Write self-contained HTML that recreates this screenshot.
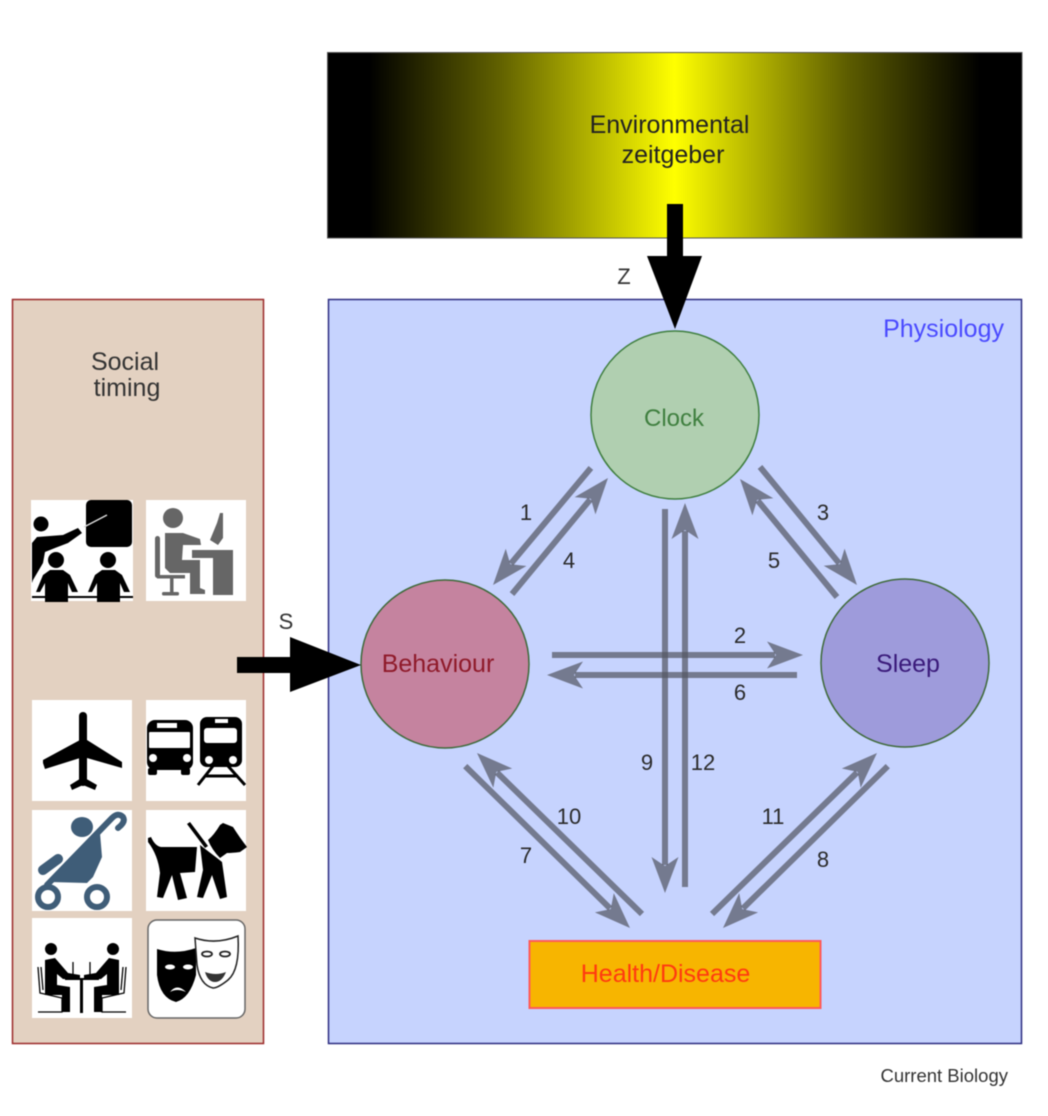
<!DOCTYPE html>
<html><head><meta charset="utf-8"><style>
html,body{margin:0;padding:0;background:#fff;width:1048px;height:1116px;overflow:hidden}
svg{display:block;filter:blur(.5px)}
text{font-family:"Liberation Sans",sans-serif}
.n{font-size:22px;fill:#2a2a2a;text-anchor:middle}
.a line{stroke:#545764;stroke-width:6;stroke-opacity:.72}
.a use{fill:#545764;fill-opacity:.72}
</style></head><body>
<svg xmlns="http://www.w3.org/2000/svg" xmlns:xlink="http://www.w3.org/1999/xlink" width="1048" height="1116" viewBox="0 0 1048 1116">
<defs>
<linearGradient id="g" gradientUnits="userSpaceOnUse" x1="327" y1="0" x2="1022" y2="0">
<stop offset="0.06" stop-color="#000"/><stop offset="0.25" stop-color="#626200"/><stop offset="0.5" stop-color="#ffff00"/><stop offset="0.75" stop-color="#5c5c00"/><stop offset="0.94" stop-color="#000"/>
</linearGradient>
<polygon id="h" points="0,0 -36,-13.5 -27,0 -36,13.5"/>
</defs>
<rect width="1048" height="1116" fill="#fff"/>
<rect x="327.5" y="52.5" width="694.500" height="185.500" fill="url(#g)" stroke="#555" stroke-width="1"/>
<text x="669.500" y="133" font-size="25" fill="#222" text-anchor="middle">Environmental</text>
<text x="673" y="163" font-size="25" fill="#222" text-anchor="middle">zeitgeber</text>

<rect x="12.500" y="299.500" width="251" height="744" fill="#e3d1c1" stroke="#9c2a2a" stroke-width="1.500"/>
<rect x="328.500" y="299.500" width="693" height="744" fill="#c6d3fe" stroke="#2c2c80" stroke-width="1.500"/>
<text x="1004" y="337" font-size="25" fill="#4a4aff" text-anchor="end">Physiology</text>
<text x="125" y="370" font-size="25" fill="#333" text-anchor="middle">Social</text>
<text x="127" y="396" font-size="25" fill="#333" text-anchor="middle">timing</text>

<circle cx="675" cy="415" r="84" fill="#b0cfb0" stroke="#3f7f3f" stroke-width="1.500"/>
<circle cx="445" cy="664" r="84" fill="#c5839f" stroke="#3f6a3a" stroke-width="1.500"/>
<circle cx="905" cy="663" r="84" fill="#9e9bdb" stroke="#3f6a3a" stroke-width="1.500"/>
<text x="674" y="426" font-size="24" fill="#3f7f3f" text-anchor="middle">Clock</text>
<text x="438" y="672" font-size="25" fill="#8f1a2a" text-anchor="middle">Behaviour</text>
<text x="908" y="672" font-size="25" fill="#3a1a7a" text-anchor="middle">Sleep</text>
<rect x="529.500" y="941" width="291" height="67" fill="#f7b500" stroke="#ff5a5a" stroke-width="2"/>
<text x="665.500" y="982" font-size="25" fill="#ff3a10" text-anchor="middle">Health/Disease</text>

<polygon fill="#000" points="667,204 683,204 683,256 702,256 675,329 647,256 667,256"/>
<polygon fill="#000" points="237,657 290,657 290,637 361,665 290,692 290,673 237,673"/>
<text x="624" y="284" font-size="22" fill="#333" text-anchor="middle">Z</text>
<text x="286" y="629" font-size="22" fill="#333" text-anchor="middle">S</text>

<g class="a">
<g transform="translate(493,585) rotate(129.900)"><line x1="-152.600" x2="-28"/><use xlink:href="#h"/></g>
<g transform="translate(608,478) rotate(-50.400)"><line x1="-150.600" x2="-28"/><use xlink:href="#h"/></g>
<g transform="translate(857,585) rotate(50.600)"><line x1="-152.800" x2="-28"/><use xlink:href="#h"/></g>
<g transform="translate(740,479) rotate(230.600)"><line x1="-152.800" x2="-28"/><use xlink:href="#h"/></g>
<g transform="translate(803,655)"><line x1="-251" x2="-28"/><use xlink:href="#h"/></g>
<g transform="translate(547,675) rotate(180)"><line x1="-250" x2="-28"/><use xlink:href="#h"/></g>
<g transform="translate(665,893) rotate(90)"><line x1="-384" x2="-28"/><use xlink:href="#h"/></g>
<g transform="translate(685,503) rotate(-90)"><line x1="-384" x2="-28"/><use xlink:href="#h"/></g>
<g transform="translate(630,928) rotate(44.500)"><line x1="-231" x2="-28"/><use xlink:href="#h"/></g>
<g transform="translate(477,753) rotate(224.300)"><line x1="-230.500" x2="-28"/><use xlink:href="#h"/></g>
<g transform="translate(877,753) rotate(-44.300)"><line x1="-230.500" x2="-28"/><use xlink:href="#h"/></g>
<g transform="translate(723,928) rotate(135.500)"><line x1="-231" x2="-28"/><use xlink:href="#h"/></g>
</g>
<g>
<text class="n" x="526" y="520">1</text><text class="n" x="569" y="568">4</text>
<text class="n" x="823" y="520">3</text><text class="n" x="774" y="568">5</text>
<text class="n" x="740" y="643">2</text><text class="n" x="740" y="700">6</text>
<text class="n" x="647" y="770">9</text><text class="n" x="703" y="770">12</text>
<text class="n" x="569" y="824">10</text><text class="n" x="526" y="863">7</text>
<text class="n" x="773" y="824">11</text><text class="n" x="823" y="867">8</text>
</g>
<text x="1008" y="1082" font-size="18.500" fill="#333" text-anchor="end">Current Biology</text>

<!-- icon tiles -->
<g fill="#fff">
<rect x="31" y="500" width="102" height="101"/><rect x="146" y="500" width="100" height="101"/>
<rect x="32" y="700" width="100" height="101"/><rect x="146" y="700" width="100" height="101"/>
<rect x="32" y="810" width="100" height="101"/><rect x="146" y="810" width="100" height="101"/>
<rect x="32" y="918" width="100" height="100"/>
<rect x="148" y="920" width="97" height="98" rx="9" stroke="#666" stroke-width="1.500"/>
</g>
<!-- teacher -->
<g fill="#000">
<rect x="86" y="500" width="46" height="47" rx="5"/>
<circle cx="41" cy="524" r="7.500"/>
<path d="M32 583V543L37 537L63 535L78 528L82 533L68 543L55 548L45 552L43 563L33 580Z"/>
<circle cx="56" cy="560" r="8"/><circle cx="108" cy="560" r="8"/>
<path d="M36 592L43 575L50 570H63L70 575L78 592H72L68 583V602H45V583L40 592Z"/>
<path d="M88 592L95 575L102 570H115L122 575L130 592H124L120 583V602H97V583L92 592Z"/>
<rect x="32" y="596" width="101" height="2"/>
</g>
<line x1="84" y1="527" x2="107" y2="515" stroke="#ddd" stroke-width="1.500"/>
<!-- desk worker -->
<g fill="#666">
<circle cx="173" cy="518" r="10"/>
<path d="M165 533H183L200 539L201 545H183L182 560H200V588L205 590V594H190V573H170L165 568Z"/>
<rect x="155" y="536" width="5" height="42" rx="2.500"/>
<rect x="157" y="575" width="28" height="3.500"/>
<rect x="170" y="578" width="3.500" height="14"/>
<rect x="162" y="592" width="17" height="3.500" rx="1.500"/>
<path d="M192 550H233V595H213V558H192Z"/>
<path d="M220 513H223L223 538L218 545L210 540L217 523Z"/>
</g>
<!-- plane -->
<g fill="#000">
<rect x="79" y="712" width="8" height="74" rx="4"/>
<path d="M43 760L80 740H87L122 762V768L87 758H80L45 769L43 763Z"/>
<path d="M83 777L97 785L95 790L83 785L72 790L70 785Z"/>
</g>
<!-- bus -->
<rect x="147" y="720" width="46" height="50" rx="8"/>
<rect x="148" y="768" width="9" height="7" rx="2"/><rect x="181" y="768" width="9" height="7" rx="2"/>
<g fill="#fff"><rect x="149" y="732" width="41" height="16" rx="1"/><rect x="157" y="723" width="20" height="5"/><circle cx="153" cy="758" r="4"/><circle cx="187" cy="758" r="4"/></g>
<!-- train -->
<rect x="200" y="717" width="42" height="50" rx="7"/>
<path d="M213 766L198 785M228 766L245 785M206 776H238" stroke="#000" stroke-width="3" fill="none"/>
<g fill="#fff"><rect x="204" y="728" width="33" height="15" rx="3"/><rect x="215" y="719" width="13" height="4"/><circle cx="209" cy="760" r="4"/><circle cx="233" cy="760" r="4"/></g>
<!-- stroller -->
<g fill="#3f5d78" stroke="none">
<path d="M50 882L100 833L102 857L93 877L87 883Z"/>
<ellipse cx="82" cy="827" rx="11" ry="10"/>
</g>
<g fill="none" stroke="#3f5d78">
<path d="M47 885L112 818Q118 812 123 817Q126 822 118 828" stroke-width="6" stroke-linecap="round"/>
<line x1="43" y1="870" x2="58" y2="859" stroke-width="10" stroke-linecap="round"/>
<circle cx="48" cy="897" r="10" stroke-width="6"/><circle cx="97" cy="897" r="10" stroke-width="6"/>
</g>
<!-- dog -->
<g fill="#000">
<path d="M148 838L151 837Q155 846 161 847H197L195 872L180 873L187 898L178 900L172 875L163 898L157 897L160 873Q158 855 148 842Z"/>
<path d="M200 845L217 858L222 862L227 897L220 899L212 875L203 898L197 897L203 870Z"/>
<path d="M208 840Q214 835 220 825L223 823L233 827Q240 838 247 847L240 852Q232 853 227 853L220 858Q212 850 208 840Z"/>
<path d="M187 824L190 822L208 846L205 848Z"/>
</g>
<!-- dining -->
<g fill="#000">
<circle cx="51" cy="949" r="6"/><circle cx="113" cy="949" r="6"/>
<path d="M45 960L55 958L68 973L80 975V979H63L57 974V985L70 987V1012H62V995H45Z"/>
<path d="M119 960L109 958L96 973L84 975V979H101L107 974V985L94 987V1012H102V995H119Z"/>
<rect x="65" y="978" width="34" height="2"/>
<rect x="80" y="978" width="3" height="35"/>
</g>
<path d="M38 967L40 993L62 998V1012H38M41 967L43 990M126 967L124 993L102 998V1012H126M123 967L121 990M73 962V975M90 962V975" stroke="#000" stroke-width="1.300" fill="none"/>
<!-- masks -->
<path d="M157 949Q176 955 196 948L196 975Q190 998 176 1002Q160 998 157 975Z" fill="#000"/>
<path d="M195 938Q216 945 238 936Q240 970 228 980Q218 988 213 988Q200 985 197 965Z" fill="#fff" stroke="#222" stroke-width="1.500"/>
<g fill="#fff"><ellipse cx="170" cy="967" rx="5" ry="2.500"/><ellipse cx="188" cy="967" rx="5" ry="2.500"/>
<path d="M170 992Q177 983 186 992Q177 988 170 992Z"/></g>
<g fill="none" stroke="#222" stroke-width="1.800"><ellipse cx="207" cy="954" rx="5" ry="2.500"/><ellipse cx="225" cy="954" rx="5" ry="2.500"/></g>
<path d="M205 972Q216 976 226 972Q222 982 215 982Q208 982 205 972Z" fill="#333"/>
</svg>
</body></html>
